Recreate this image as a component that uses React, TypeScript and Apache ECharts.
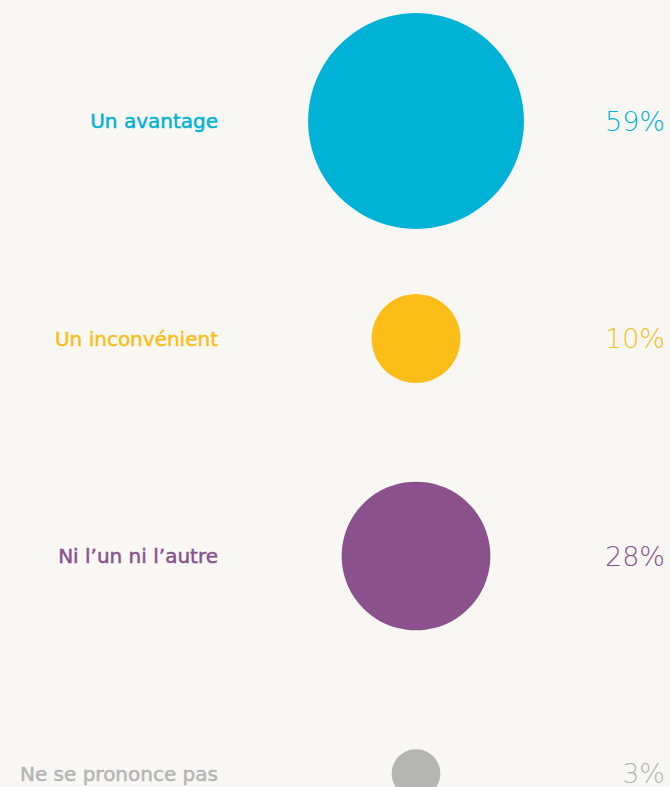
import React, { useEffect, useRef } from "react";
import * as echarts from "echarts";

const categories = ["Un avantage", "Un inconvénient", "Ni l’un ni l’autre", "Ne se prononce pas"];
const values = [59, 10, 28, 3];
const colors = ["#00b3d6", "#fbbd17", "#8a518c", "#b5b5b4"];
const percentLabels = values.map((v) => v + "%");

export default function App() {
  const ref = useRef<HTMLDivElement>(null);
  useEffect(() => {
    if (!ref.current) return;
    const chart = echarts.init(ref.current, null, { renderer: "svg" });
    const rich: Record<string, any> = {};
    colors.forEach((c, i) => {
      rich["c" + i] = {
        color: c,
        fontFamily: "DejaVu Sans",
        fontSize: 20,
        textBorderColor: c,
        textBorderWidth: 0.5,
      };
    });
    chart.setOption({
      animation: false,
      backgroundColor: "#f8f7f4",
      grid: { left: 230, right: 68, top: 121, bottom: 13 },
      xAxis: {
        type: "category",
        data: [""],
        show: false,
      },
      yAxis: [
        {
          type: "category",
          data: categories,
          inverse: true,
          boundaryGap: false,
          position: "left",
          axisLine: { show: false },
          axisTick: { show: false },
          splitLine: { show: false },
          axisLabel: {
            margin: 12,
            fontFamily: "DejaVu Sans",
            fontSize: 20,
            formatter: (v: string, i: number) => `{c${i}|${v}}`,
            rich,
          },
        },
        {
          type: "category",
          data: percentLabels,
          inverse: true,
          boundaryGap: false,
          position: "right",
          axisLine: { show: false },
          axisTick: { show: false },
          splitLine: { show: false },
          axisLabel: {
            margin: 63,
            align: "right",
            fontFamily: "DejaVu Sans",
            fontWeight: 200,
            fontSize: 27,
            color: (_v: any, i: number) => colors[i],
          },
        },
      ],
      series: [
        {
          type: "scatter",
          yAxisIndex: 0,
          data: values.map((v, i) => ({
            value: ["", categories[i]],
            itemStyle: { color: colors[i], opacity: 1 },
          })),
          symbol: "circle",
          symbolSize: (_val: any, params: any) => 28.1 * Math.sqrt(values[params.dataIndex]),
          silent: true,
        },
      ],
    });
    return () => chart.dispose();
  }, []);
  return (
    <div
      ref={ref}
      style={{ position: "fixed", left: 0, top: 0, width: 670, height: 787 }}
    />
  );
}
